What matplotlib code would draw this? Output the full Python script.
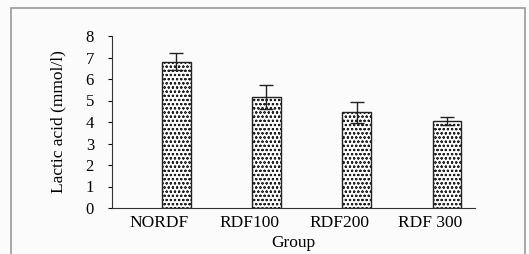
import matplotlib
matplotlib.use('Agg')
import matplotlib.pyplot as plt
import matplotlib.transforms as mtransforms
import numpy as np
from matplotlib.patches import Rectangle

groups = ['NORDF', 'RDF100', 'RDF200', 'RDF 300']
lactic = [6.8, 5.15, 4.45, 4.05]
lactic_err = [0.4, 0.55, 0.5, 0.2]

def main():
    plt.rcParams['font.family'] = ['Liberation Serif', 'DejaVu Serif']
    plt.rcParams['hatch.linewidth'] = 0.5
    plt.rcParams['hatch.color'] = '#555555'

    fig = plt.figure(figsize=(5.29, 2.54), dpi=100)
    fig.patch.set_facecolor('#fbfbfb')
    # outer frame
    fig.patches.append(Rectangle((11/529, -0.02), 514/529, 1 - 8/254 + 0.02,
                                 transform=fig.transFigure, fill=False,
                                 edgecolor='#999999', linewidth=1.2))

    ax = fig.add_axes([112/529, 1 - 208/254, (475 - 112)/529, (208 - 36)/254])
    ax.set_facecolor('none')
    x = np.arange(len(groups))
    ax.bar(x, lactic, 0.32, color='white', edgecolor='#222222', hatch='oooo',
           linewidth=1.0, yerr=lactic_err, capsize=5,
           error_kw={'ecolor': '#222222', 'elinewidth': 1.0, 'capthick': 1.0})

    ax.set_xlim(-0.71, 3.31)
    ax.set_ylim(0, 8)
    ax.set_yticks(range(0, 9))
    ax.set_xticks(x)
    ax.set_xticklabels(groups)
    ax.tick_params(axis='x', length=0, pad=5, labelsize=12.5)
    ax.tick_params(axis='y', length=3, pad=10, labelsize=12, direction='out')
    # labels in the original sit a little left of the bars
    shift = mtransforms.ScaledTranslation(-17/100, 0, fig.dpi_scale_trans)
    for lbl in ax.get_xticklabels():
        lbl.set_transform(lbl.get_transform() + shift)
    for s in ['top', 'right']:
        ax.spines[s].set_visible(False)
    ax.spines['left'].set_color('#333333')
    ax.spines['bottom'].set_color('#333333')

    ax.set_xlabel('Group', fontsize=12.5, labelpad=3)
    ax.set_ylabel('Lactic acid (mmol/l)', fontsize=12.5, labelpad=14)

    fig.savefig('out.png', dpi=100, facecolor=fig.get_facecolor())

if __name__ == '__main__':
    main()
